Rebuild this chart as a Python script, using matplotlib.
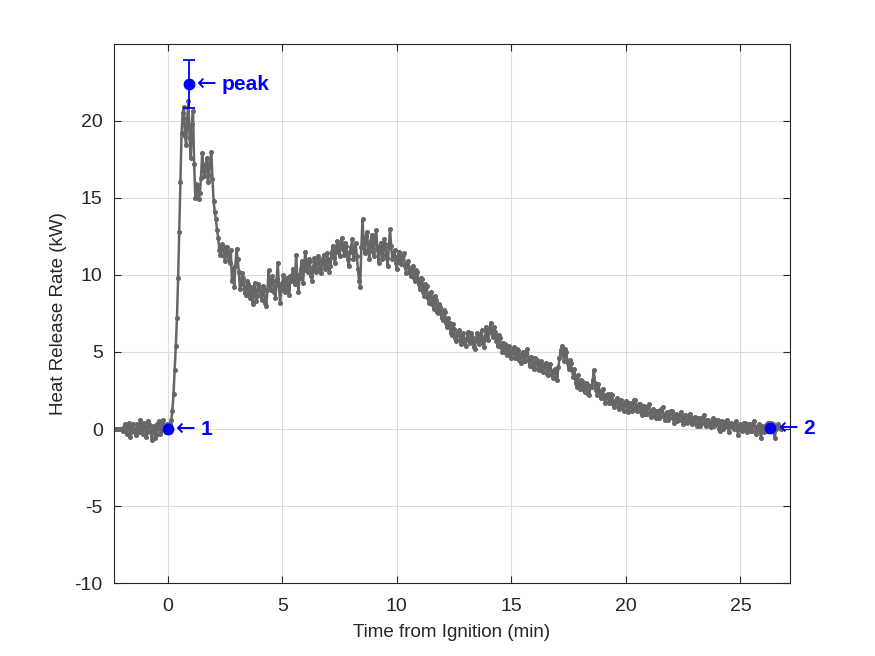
import matplotlib
matplotlib.use("Agg")
import matplotlib.pyplot as plt
import numpy as np

plt.rcParams['font.family'] = ['Liberation Sans', 'DejaVu Sans']
plt.rcParams['mathtext.fontset'] = 'dejavusans'
plt.rcParams['axes.unicode_minus'] = False

# Messwerte: Start bei -2.4 min, Abtastung alle 0.05 min
t_start = -2.4
dt = 0.05
hrr = [
    # -2.4 .. -1.45
    0.0, 0.0, 0.0, 0.0, 0.0, 0.0, 0.0, 0.01, 0.02, -0.1, 0.1, 0.3, -0.3, 0.1, 0.4, -0.5, -0.2, 0.2, 0.3, -0.2,
    # -1.4 .. -0.45
    -0.4, 0.3, 0.2, -0.2, 0.6, 0.0, -0.3, 0.4, 0.1, -0.5, -0.2, 0.5, 0.3, -0.2, -0.7, 0.2, 0.1, -0.6, -0.4, 0.3,
    # -0.4 .. 0.55
    0.5, -0.3, -0.1, 0.4, 0.6, 0.0, -0.2, 0.3, 0.1, 0.05, 0.3, 0.6, 1.2, 2.3, 3.8, 5.4, 7.2, 9.8, 12.8, 16.0,
    # 0.6 .. 1.55
    19.2, 20.5, 20.9, 19.0, 18.4, 20.2, 21.3, 18.9, 17.6, 19.8, 20.6, 17.2, 15.0, 15.9, 15.8, 14.9, 15.3, 16.3, 17.9, 16.8,
    # 1.6 .. 2.55
    16.4, 17.2, 17.6, 16.0, 16.5, 17.3, 18.0, 16.2, 14.8, 14.1, 13.6, 12.9, 12.4, 11.6, 11.3, 12.0, 11.9, 11.2, 10.9, 11.7,
    # 2.6 .. 3.55
    11.8, 11.1, 10.8, 11.6, 9.6, 10.4, 9.2, 10.6, 11.7, 11.0, 10.2, 9.1, 9.4, 10.1, 9.8, 8.8, 8.7, 9.6, 9.4, 8.6,
    # 3.6 .. 4.55
    8.5, 9.2, 8.1, 8.9, 9.5, 8.3, 8.6, 9.4, 9.2, 8.7, 8.4, 9.3, 9.1, 8.2, 8.0, 9.0, 10.3, 9.4, 9.0, 9.9,
    # 4.6 .. 5.55
    9.6, 8.9, 8.5, 9.7, 10.8, 9.3, 8.2, 9.0, 9.5, 10.0, 8.9, 9.4, 9.8, 9.1, 8.7, 9.9, 9.6, 10.4, 10.1, 9.4,
    # 5.6 .. 6.55
    11.3, 10.0, 8.9, 9.8, 10.4, 10.9, 9.5, 10.3, 11.5, 10.6, 10.2, 11.0, 10.9, 9.9, 9.6, 10.5, 11.1, 10.2, 10.4, 11.2,
    # 6.6 .. 7.55
    10.9, 10.3, 10.1, 11.0, 11.3, 10.4, 10.5, 11.4, 11.0, 10.2, 10.6, 11.5, 11.9, 11.1, 10.8, 11.7, 12.2, 11.5, 11.2, 12.0,
    # 7.6 .. 8.55
    12.4, 11.7, 11.3, 12.1, 11.9, 11.0, 10.6, 11.5, 11.8, 12.3, 11.0, 11.6, 12.1, 11.2, 10.4, 9.6, 9.2, 11.8, 13.6, 12.2,
    # 8.6 .. 9.55
    11.4, 12.5, 12.8, 11.6, 11.0, 12.2, 12.6, 11.5, 11.2, 12.4, 12.9, 11.7, 10.8, 11.9, 12.1, 11.0, 11.3, 12.3, 12.0, 11.1,
    # 9.6 .. 10.55
    10.6, 11.8, 13.0, 11.9, 11.0, 11.4, 11.6, 10.8, 10.4, 11.2, 11.5, 10.9, 10.7, 11.3, 11.4, 10.6, 10.1, 10.8, 10.9, 10.2,
    # 10.6 .. 11.55
    9.9, 10.5, 10.6, 9.8, 9.6, 10.3, 10.2, 9.4, 9.1, 9.8, 9.7, 8.9, 8.6, 9.4, 9.3, 8.5, 8.2, 8.8, 8.9, 8.1,
    # 11.6 .. 12.55
    7.8, 8.6, 8.4, 7.6, 7.5, 8.1, 7.9, 7.2, 7.1, 7.7, 7.6, 6.9, 6.6, 7.2, 6.9, 6.2, 6.1, 6.8, 6.5, 5.9,
    # 12.6 .. 13.55
    5.7, 6.3, 6.4, 5.8, 5.5, 6.1, 6.2, 5.6, 5.4, 5.9, 6.3, 5.7, 5.6, 6.2, 6.0, 5.3, 5.2, 5.8, 6.2, 5.7,
    # 13.6 .. 14.55
    5.5, 6.1, 6.4, 5.7, 5.3, 6.0, 6.6, 6.1, 5.8, 6.5, 6.9, 6.2, 6.0, 6.6, 6.3, 5.7, 5.4, 6.1, 5.9, 5.3,
    # 14.6 .. 15.55
    5.0, 5.6, 5.5, 4.9, 4.8, 5.3, 5.4, 4.8, 4.6, 5.2, 5.3, 4.6, 4.7, 5.2, 5.1, 4.5, 4.3, 4.9, 5.0, 4.4,
    # 15.6 .. 16.55
    4.4, 4.9, 5.2, 4.5, 4.1, 4.7, 4.6, 4.0, 3.9, 4.6, 4.5, 3.9, 3.8, 4.3, 4.4, 3.8, 3.7, 4.2, 4.3, 3.6,
    # 16.6 .. 17.55
    3.5, 4.0, 4.2, 3.6, 3.3, 3.8, 3.9, 3.4, 3.2, 4.0, 4.6, 5.1, 5.4, 4.8, 4.4, 5.2, 5.0, 4.3, 3.9, 4.5,
    # 17.6 .. 18.55
    4.3, 3.8, 3.4, 3.9, 3.0, 2.7, 3.5, 3.0, 2.6, 3.2, 3.1, 2.5, 2.4, 3.0, 2.9, 2.3, 2.2, 2.8, 2.7, 3.2,
    # 18.6 .. 19.55
    3.8, 3.0, 2.5, 2.2, 2.9, 2.4, 2.0, 2.5, 2.6, 2.0, 1.7, 2.2, 2.3, 1.7, 1.8, 2.3, 2.2, 1.6, 1.4, 1.9,
    # 19.6 .. 20.55
    2.0, 1.5, 1.3, 1.8, 1.9, 1.4, 1.2, 1.7, 1.8, 1.2, 1.1, 1.6, 1.7, 1.2, 1.3, 1.9, 1.9, 1.4, 1.2, 1.6,
    # 20.6 .. 21.55
    1.6, 1.1, 0.9, 1.4, 1.5, 1.0, 1.0, 1.5, 1.6, 1.1, 0.8, 1.2, 1.3, 0.9, 0.7, 1.2, 1.2, 0.7, 0.8, 1.3,
    # 21.6 .. 22.55
    1.4, 0.9, 0.6, 1.0, 1.1, 0.6, 0.7, 1.2, 1.2, 0.7, 0.4, 0.9, 1.0, 0.5, 0.6, 1.0, 1.1, 0.6, 0.3, 0.8,
    # 22.6 .. 23.55
    0.9, 0.4, 0.5, 0.9, 1.0, 0.5, 0.3, 0.7, 0.8, 0.3, 0.2, 0.7, 0.7, 0.2, 0.4, 0.8, 0.9, 0.4, 0.2, 0.6,
    # 23.6 .. 24.55
    0.6, 0.2, 0.1, 0.5, 0.7, 0.2, 0.3, 0.6, 0.6, 0.0, -0.1, 0.4, 0.5, 0.0, 0.1, 0.5, 0.6, 0.1, -0.2, 0.3,
    # 24.6 .. 25.55
    0.4, 0.1, 0.0, 0.4, 0.5, 0.0, -0.4, 0.2, 0.3, -0.1, 0.0, 0.4, 0.4, 0.0, -0.2, 0.3, 0.3, -0.1, -0.1, 0.3,
    # 25.6 .. 26.75
    0.5, 0.1, -0.3, 0.2, 0.3, -0.1, -0.6, 0.1, 0.2, -0.2, -0.1, 0.3, 0.4, 0.0, 0.1, 0.4, 0.3, -0.1, -0.6, 0.0,
    0.2, 0.3, 0.1, 0.0,
]
zeit = t_start + dt * np.arange(len(hrr))

# markierte Punkte
peak_t, peak_hrr, peak_err = 0.92, 22.4, 1.56
p1_t, p1_hrr = 0.0, 0.0
p2_t, p2_hrr = 26.3, 0.05

fig = plt.figure(figsize=(8.75, 6.56), dpi=100)
ax = fig.add_axes([0.13, 0.111, 0.7725, 0.822])

ax.plot(zeit, hrr, '-', color='#666666', lw=1.8, marker='.', ms=5.2, zorder=2)

blau = (0, 0, 1)
ax.errorbar(peak_t, peak_hrr, yerr=peak_err, fmt='o', color=blau, ms=7.5,
            capsize=4.6, elinewidth=1.3, capthick=1.3, zorder=4)
ax.plot([p1_t, p2_t], [p1_hrr, p2_hrr], 'o', color=blau, ms=7.5, zorder=4)

for tx, ty, lab in [(peak_t, peak_hrr, 'peak'), (p1_t, p1_hrr, '1'), (p2_t, p2_hrr, '2')]:
    ax.annotate('\u2190', (tx, ty), xytext=(6, 0), textcoords='offset points',
                color=blau, fontsize=17, family='DejaVu Sans', va='center', ha='left',
                annotation_clip=False, zorder=5)
    ax.annotate(lab, (tx, ty), xytext=(23.5, -0.5), textcoords='offset points',
                color=blau, fontsize=15, fontweight='bold', va='center', ha='left',
                annotation_clip=False, zorder=5)

ax.set_xlim(-2.36, 27.15)
ax.set_ylim(-10, 24.98)
ax.set_xticks([0, 5, 10, 15, 20, 25])
ax.set_yticks([-10, -5, 0, 5, 10, 15, 20])
ax.grid(True, color='#dcdcdc', lw=0.8)
ax.set_axisbelow(True)
ax.tick_params(direction='in', length=5, width=0.8, colors='#262626', labelsize=14,
               top=True, right=True)
ax.tick_params(axis='x', pad=11)
ax.tick_params(axis='y', pad=8)
for s in ax.spines.values():
    s.set_color('#262626')
    s.set_linewidth(0.8)

ax.set_xlabel('Time from Ignition (min)', fontsize=13.5, color='#262626', labelpad=6)
ax.set_ylabel('Heat Release Rate (kW)', fontsize=13.5, color='#262626', labelpad=5)

plt.savefig('out.png', dpi=100)
plt.close()
